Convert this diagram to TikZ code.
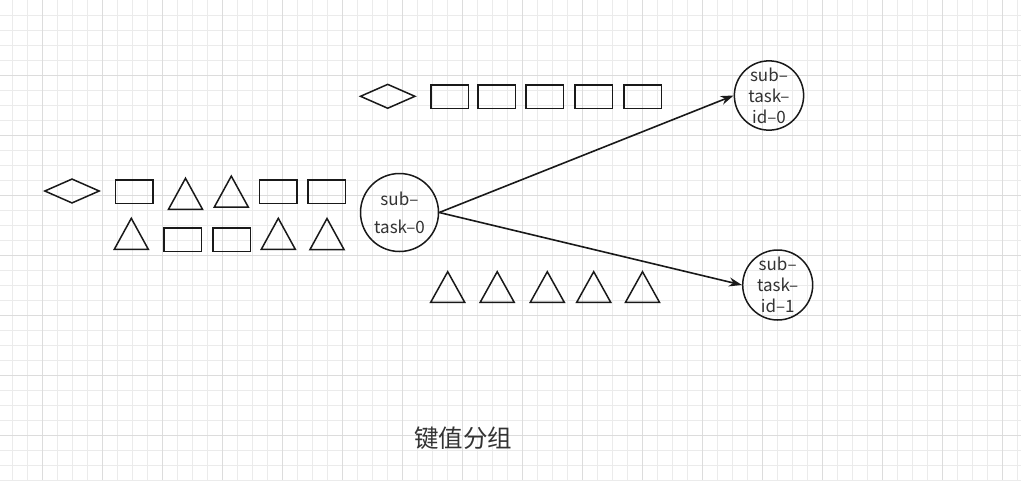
\documentclass[tikz,border=0pt]{standalone}
\usepackage{fontspec}
\setmainfont{Noto Sans CJK SC}
\newfontfamily\cjk{Noto Sans CJK SC}
\usepackage{tikz}
\usetikzlibrary{
  arrows.meta,
  calc,
  positioning,
  shapes}

\definecolor{gridminor}{HTML}{EBEBEB}
\definecolor{gridmajor}{HTML}{DCDCDC}
\definecolor{inkgray}{HTML}{333333}

\tikzset{
  minorline/.style={gridminor, line width=0.8pt},
  majorline/.style={gridmajor, line width=0.8pt},
  item/.style={draw=black!90, line width=1.5pt},
  rectitem/.style={item, rectangle, minimum width=37.5pt, minimum height=23.5pt, inner sep=0pt},
  diaitem/.style={item, diamond, minimum width=55pt, minimum height=24.5pt, inner sep=0pt},
  task/.style={draw=black!90, line width=1.5pt, circle, inner sep=0pt, align=center,
    text=inkgray, font=\fontsize{17}{21}\selectfont},
  flow/.style={-{Stealth[length=13pt,width=9pt]}, line width=1.6pt, black!90}
}

\begin{document}
\begin{tikzpicture}[x=1pt,y=-1pt]
  \useasboundingbox (0,0) rectangle (1021,480);
  \fill[white] (0,0) rectangle (1021,480);
  % grid
  \foreach \k in {0,...,67} \draw[minorline] ({12.3+15*\k},0) -- ({12.3+15*\k},480);
  \foreach \k in {0,...,31} \draw[minorline] (0,{15.5+15*\k}) -- (1021,{15.5+15*\k});
  \foreach \k in {0,...,16} \draw[majorline] ({42.3+60*\k},0) -- ({42.3+60*\k},480);
  \foreach \k in {0,...,6} \draw[majorline] (0,{75.5+60*\k}) -- (1021,{75.5+60*\k});

  % upstream records
  \node[diaitem] (dl) at (72,191) {};
  \foreach \x/\y [count=\i] in {134/191.6, 278/191.6, 326.7/191.6, 182.8/239.7, 231.7/239.7}
    \node[rectitem] (rl\i) at (\x,\y) {};
  \foreach \x/\y in {185.5/193.8, 231.3/191.6, 131.3/233.8, 278.3/233.8, 327/234}
    \draw[item, line join=miter] (\x-17,\y+15.5) -- (\x,\y-15.5) -- (\x+17,\y+15.5) -- cycle;

  % records for sub-task-id-0
  \node[diaitem] (du) at (387.7,96.3) {};
  \foreach \x [count=\i] in {449.7,496.7,544.7,593.7,642.8}
    \node[rectitem] (ru\i) at (\x,96.8) {};

  % records for sub-task-id-1
  \foreach \x in {447.7,497.2,547.3,593.7,642.5}
    \draw[item, line join=miter] (\x-17,302.3) -- (\x,271.7) -- (\x+17,302.3) -- cycle;

  % tasks
  \node[task, minimum size=78pt, font=\fontsize{17}{28}\selectfont] (t0) at (399.5,212.5) {sub–\\task–0};
  \node[task, minimum size=69pt] (id0) at (769,95.5) {sub–\\task–\\id–0};
  \node[task, minimum size=70pt] (id1) at (777.7,285) {sub–\\task–\\id–1};

  \draw[flow] (t0.east) -- (id0.west);
  \draw[flow] (t0.east) -- (id1.west);

  \node[text=inkgray, font=\cjk\fontsize{24.5}{24.5}\selectfont] (cap) at (463,438) {键值分组};
\end{tikzpicture}
\end{document}
